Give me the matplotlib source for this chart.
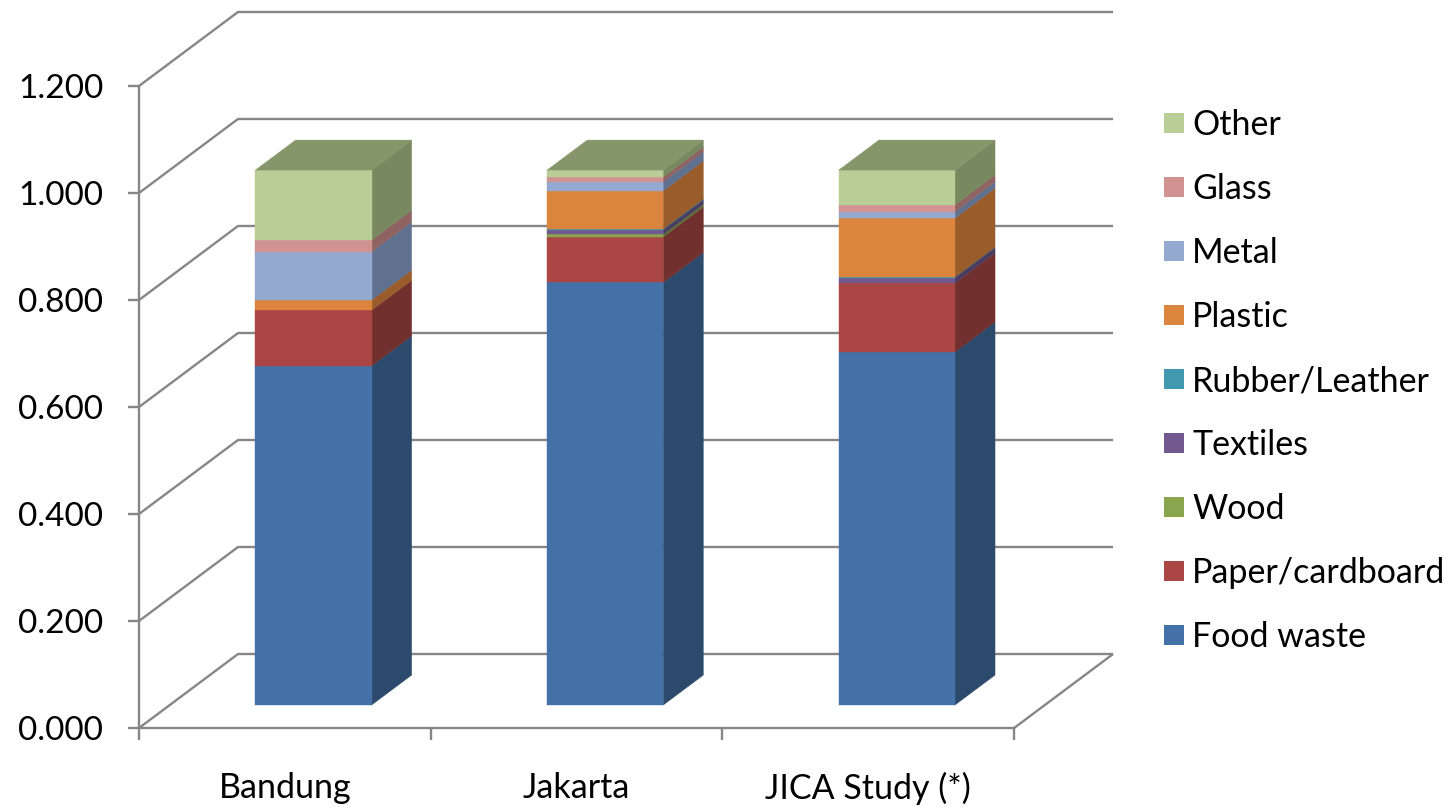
import matplotlib
matplotlib.use('agg')
import matplotlib.pyplot as plt
from matplotlib.patches import Polygon, Rectangle

plt.rcParams['font.family'] = ['Lato', 'DejaVu Sans']

cities = ['Bandung', 'Jakarta', 'JICA Study (*)']
materials = ['Food waste', 'Paper/cardboard', 'Wood', 'Textiles', 'Rubber/Leather',
             'Plastic', 'Metal', 'Glass', 'Other']

food = [0.634, 0.790, 0.660]
paper = [0.104, 0.085, 0.129]
wood = [0.000, 0.005, 0.000]
textiles = [0.000, 0.008, 0.010]
rubber = [0.000, 0.002, 0.001]
plastic = [0.019, 0.071, 0.110]
metal = [0.090, 0.017, 0.012]
glass = [0.022, 0.009, 0.013]
other = [0.131, 0.013, 0.065]
series = [food, paper, wood, textiles, rubber, plastic, metal, glass, other]

front_colors = ['#4472A8', '#AA4643', '#89A54E', '#71588F', '#4198AF',
                '#DB843D', '#93A9CF', '#D19392', '#B9CD96']
side_colors = ['#2C4A6C', '#71302D', '#5C6F34', '#4B3B60', '#2B6575',
               '#995C2A', '#60718F', '#8E6362', '#78895F']
top_color = '#85976A'
line_color = '#868686'

y_ticks = [0.0, 0.2, 0.4, 0.6, 0.8, 1.0, 1.2]

# wall depth expressed in axis units (one category wide, one value high)
depth_x = 0.3394
depth_y = 0.1383
bar_front = 0.31
bar_depth = 0.405
bar_width = 0.398

fig = plt.figure(figsize=(14.56, 8.09), dpi=100)
ax = fig.add_axes([0, 0, 1, 1])
ax.set_xlim(-0.4766, 4.515)
ax.set_ylim(-0.1514, 1.3607)
ax.axis('off')


def wall_line(xs, ys, z=1):
    ax.plot(xs, ys, color=line_color, lw=1.7, solid_capstyle='butt', zorder=z)


# gridlines run up the left wall and then along the back wall
for v in y_ticks:
    wall_line([0, depth_x, 3 + depth_x], [v, v + depth_y, v + depth_y])
    wall_line([-0.038, 0], [v, v])

wall_line([0, 0], [0, 1.2])
wall_line([0, 3], [0, 0], z=1.5)
wall_line([3, 3 + depth_x], [0, depth_y])
for i in range(4):
    wall_line([i, i], [0, -0.022])

# stacked columns: front face, side face per segment, then the lid
dx = bar_depth * depth_x
dy = bar_depth * depth_y
for c in range(len(cities)):
    left = c + 0.5 - bar_width / 2 + bar_front * depth_x - 0.007
    right = left + bar_width
    base_y = bar_front * depth_y
    bottom = 0.0
    for s in range(len(series)):
        h = series[s][c]
        if h > 0:
            y0 = base_y + bottom
            y1 = y0 + h
            ax.add_patch(Polygon([(right, y0), (right + dx, y0 + dy), (right + dx, y1 + dy), (right, y1)],
                                 facecolor=side_colors[s], edgecolor=side_colors[s], lw=0.3, zorder=3))
            ax.add_patch(Rectangle((left, y0), bar_width, h,
                                   facecolor=front_colors[s], edgecolor=front_colors[s], lw=0.3, zorder=4))
        bottom += h
    top = base_y + bottom
    ax.add_patch(Polygon([(left, top), (left + dx, top + dy), (right + dx, top + dy), (right, top)],
                         facecolor=top_color, edgecolor=top_color, lw=0.3, zorder=4))
    ax.text(c + 0.5, -0.1125, cities[c], fontsize=24.5, color='black', ha='center', va='center')

for v in y_ticks:
    ax.text(-0.123, v - 0.0056, '%.3f' % v, fontsize=24, color='black', ha='right', va='center')

# legend drawn by hand so the swatches sit on the fixed 64px rhythm
for s in range(len(materials)):
    y = (728 - (635 - 64 * s)) / 535
    ax.add_patch(Rectangle((3.514, y - 0.0187), 0.0686, 0.0374, facecolor=front_colors[s], edgecolor='none'))
    ax.text(3.6105, y - 0.004, materials[s], fontsize=24.5, color='black', ha='left', va='center')

fig.savefig('out.png', dpi=100)
